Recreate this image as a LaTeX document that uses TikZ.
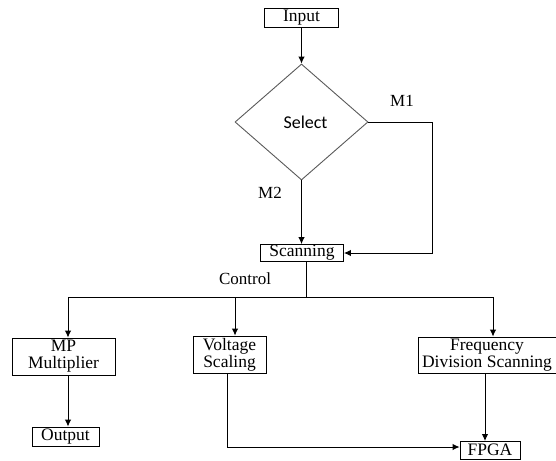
\documentclass[tikz,border=0pt]{standalone}
\usepackage{fontspec}
\setmainfont{Liberation Serif}
\newfontfamily\selfont{Carlito}
\usetikzlibrary{calc, arrows.meta, positioning, shapes.geometric}

\begin{document}
\begin{tikzpicture}[x=1pt, y=-1pt, >={Latex[length=7pt,width=6.5pt]}, line width=0.9pt]
				\tikzstyle{block} = [draw=black, line width=0.9pt, inner sep=0pt, align=center, font=\fontsize{17.5}{17}\selectfont]
				\tikzstyle{decide} = [draw=black!65, line width=0.9pt, diamond, inner sep=0pt, font=\selfont\fontsize{18}{18}\selectfont]
				\tikzstyle{invis} = [draw=none, inner sep=0pt, font=\fontsize{17}{16}\selectfont]

				\useasboundingbox (0,0) rectangle (556,460);

				% blocks
				\node[block, minimum width=74pt, minimum height=19pt]	at (301.5,17.5)	(inp)	{Input};
				\node[decide, minimum width=133pt, minimum height=116pt]	at (301.5,122)	(sel)	{\hspace{8pt}Select};
				\node[block, minimum width=83pt, minimum height=17pt]	at (302,253)		(scan)	{Scanning};
				\node[block, minimum width=103pt, minimum height=37pt]	at (63.5,356.5)	(mp)	{MP\\Multiplier};
				\node[block, minimum width=73pt, minimum height=37pt]	at (229.5,354.5)	(volt)	{Voltage\\Scaling};
				\node[block, minimum width=138pt, minimum height=36pt]	at (487,355)		(freq)	{Frequency\\Division Scanning};
				\node[block, minimum width=67pt, minimum height=19pt]	at (65.5,436.5)	(out)	{Output};
				\node[block, minimum width=60pt, minimum height=18pt]	at (490,450)		(fpga)	{FPGA};

				% labels
				\node[invis]	at (402,101)	(m1)	{M1};
				\node[invis]	at (270,193)	(m2)	{M2};
				\node[invis]	at (245,279)	(ctl)	{Control};

				% bends
				\coordinate (mone)	at (432,122);
				\coordinate (split)	at (306,297);
				\coordinate (lft)	at (68,297);
				\coordinate (mid)	at (235,297);
				\coordinate (rgt)	at (493,297);
				\coordinate (fd)	at (485,441);
				\coordinate (vdown)	at (227,447);

				\draw[->] (inp) -- (sel.north);
				\draw[->] (sel.south) -- (sel.south |- scan.north);
				\draw[->] (sel.east) -- (mone) |- (scan.east);
				\draw (scan.south -| split) -- (split);
				\draw (lft) -- (rgt);
				\draw[->] (lft) -- (lft |- mp.north);
				\draw[->] (mid) -- (mid |- volt.north);
				\draw[->] (rgt) -- (rgt |- freq.north);
				\draw[->] (lft |- mp.south) -- (lft |- out.north);
				\draw[->] (fd |- freq.south) -- (fd);
				\draw[->] (vdown |- volt.south) -- (vdown) -- (vdown -| fpga.west);
\end{tikzpicture}
\end{document}
